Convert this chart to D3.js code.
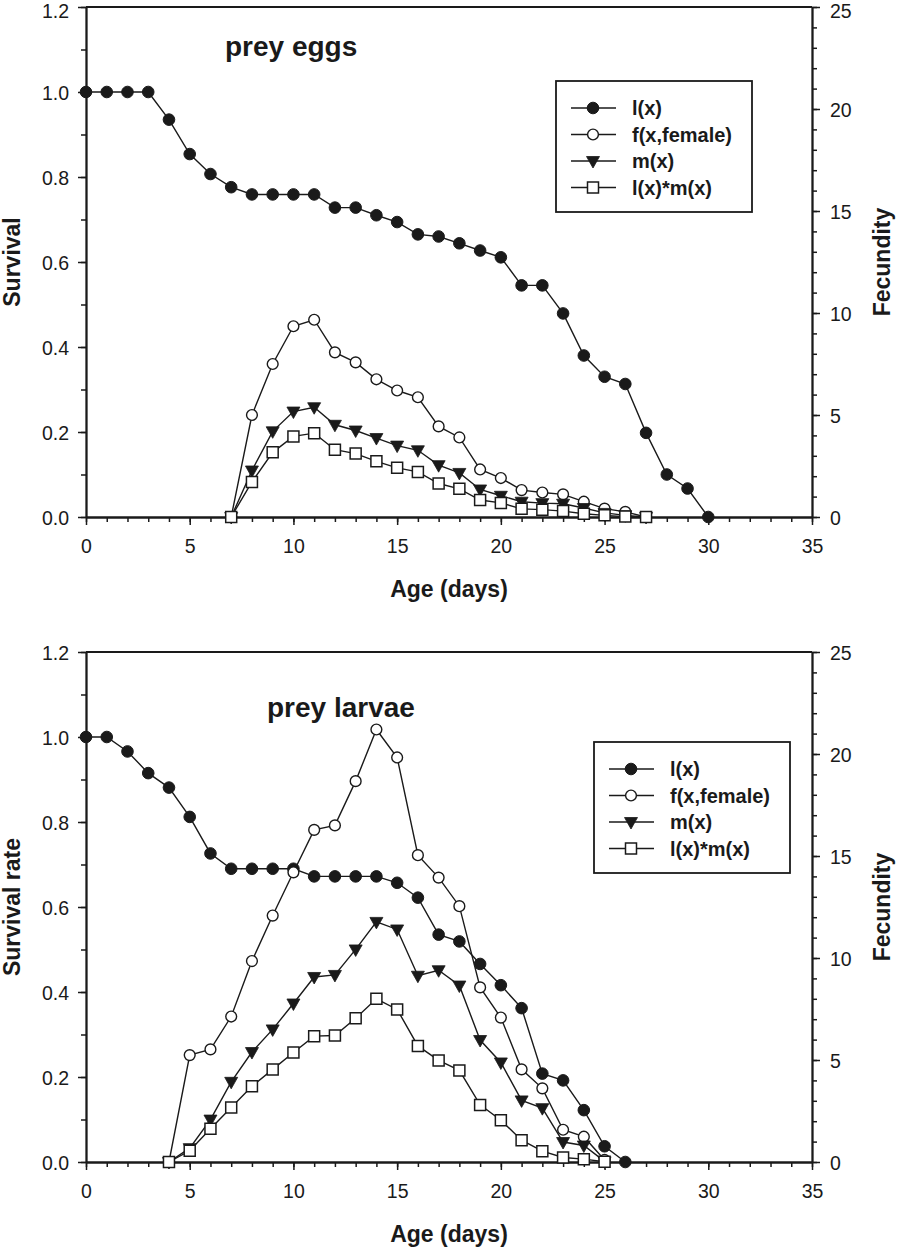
<!DOCTYPE html>
<html>
<head>
<meta charset="utf-8">
<script src="https://cdn.jsdelivr.net/npm/d3@7"></script>
<style>
  html, body { margin: 0; padding: 0; background: #fff; }
  svg { display: block; font-family: "Liberation Sans", Arial, sans-serif; }
</style>
</head>
<body>
<svg id="chart" width="898" height="1248"></svg>
<script>
// ---------- DATA ----------
// Panel A: prey eggs
const eggAgeL = d3.range(0, 31);
const eggL = [1, 1, 1, 1, 0.935, 0.854, 0.807, 0.776, 0.759, 0.759, 0.759, 0.759, 0.728, 0.728, 0.710, 0.694,
              0.665, 0.660, 0.644, 0.627, 0.611, 0.545, 0.545, 0.479, 0.380, 0.330, 0.313, 0.198, 0.100, 0.067, 0];
const eggAgeF = d3.range(7, 28);
const eggF  = [0, 5.0, 7.5, 9.35, 9.67, 8.07, 7.58, 6.75, 6.2, 5.87, 4.44, 3.9, 2.33, 1.91, 1.32, 1.2, 1.11, 0.75, 0.41, 0.25, 0];
const eggM  = [0, 2.28, 4.2, 5.17, 5.38, 4.52, 4.24, 3.87, 3.5, 3.27, 2.54, 2.16, 1.35, 1.04, 0.75, 0.68, 0.65, 0.44, 0.2, 0.08, 0];
const eggLM = [0, 1.72, 3.17, 3.95, 4.11, 3.3, 3.11, 2.73, 2.41, 2.21, 1.64, 1.38, 0.83, 0.69, 0.4, 0.36, 0.29, 0.16, 0.08, 0.02, 0];

// Panel B: prey larvae
const larAgeL = d3.range(0, 27);
const larL = [1, 1, 0.966, 0.915, 0.881, 0.812, 0.726, 0.690, 0.690, 0.690, 0.690, 0.672, 0.672, 0.672, 0.672, 0.657,
              0.622, 0.535, 0.519, 0.466, 0.416, 0.362, 0.208, 0.192, 0.122, 0.037, 0];
const larAgeF = d3.range(4, 26);
const larF  = [0, 5.24, 5.52, 7.13, 9.85, 12.08, 14.2, 16.28, 16.5, 18.67, 21.2, 19.83, 15.04, 13.94, 12.54, 8.56, 7.08, 4.54, 3.61, 1.58, 1.24, 0.1];
const larM  = [0, 0.68, 2.08, 3.93, 5.39, 6.5, 7.77, 9.07, 9.17, 10.42, 11.77, 11.4, 9.13, 9.4, 8.65, 5.98, 4.88, 3.02, 2.64, 0.98, 0.81, 0.03];
const larLM = [0, 0.55, 1.63, 2.67, 3.71, 4.54, 5.37, 6.17, 6.2, 7.05, 8.0, 7.48, 5.69, 4.98, 4.49, 2.8, 2.05, 1.07, 0.53, 0.22, 0.14, 0.01];

const seriesNames = ["l(x)", "f(x,female)", "m(x)", "l(x)*m(x)"];
const xTicks = [0, 5, 10, 15, 20, 25, 30, 35];
const survTicks = [0, 0.2, 0.4, 0.6, 0.8, 1.0, 1.2];
const fecTicks = [0, 5, 10, 15, 20, 25];

// ---------- DRAWING ----------
const svg = d3.select("#chart");
const INK = "#1a1a1a";

function markerPath(kind) {
  if (kind === "tri") return "M-6.5,-4.5L6.5,-4.5L0,7Z";
  if (kind === "sq") return "M-5.5,-5.5H5.5V5.5H-5.5Z";
  return null;
}

function drawMarker(g, kind, x, y) {
  if (kind === "fc") {
    g.append("circle").attr("cx", x).attr("cy", y).attr("r", 5.8).attr("fill", INK).attr("stroke", INK).attr("stroke-width", 1);
  } else if (kind === "oc") {
    g.append("circle").attr("cx", x).attr("cy", y).attr("r", 5.4).attr("fill", "#fff").attr("stroke", INK).attr("stroke-width", 1.4);
  } else if (kind === "tri") {
    g.append("path").attr("d", markerPath("tri")).attr("transform", `translate(${x},${y})`).attr("fill", INK).attr("stroke", INK).attr("stroke-width", 0.8);
  } else {
    g.append("path").attr("d", markerPath("sq")).attr("transform", `translate(${x},${y})`).attr("fill", "#fff").attr("stroke", INK).attr("stroke-width", 1.5);
  }
}

function panel(cfg) {
  const x = d3.scaleLinear().domain([0, 35]).range([cfg.left, cfg.right]);
  const yL = d3.scaleLinear().domain([0, 1.2]).range([cfg.bottom, cfg.top]);
  const yR = d3.scaleLinear().domain([0, 25]).range([cfg.bottom, cfg.top]);
  const g = svg.append("g");

  // minor ticks
  g.append("g").attr("transform", `translate(0,${cfg.bottom})`)
    .call(d3.axisBottom(x).tickValues(d3.range(0, 36)).tickSize(5).tickFormat("").tickSizeOuter(0));
  g.append("g").attr("transform", `translate(${cfg.left},0)`)
    .call(d3.axisLeft(yL).tickValues(d3.range(0, 13).map(d => d / 10)).tickSize(5).tickFormat("").tickSizeOuter(0));
  g.append("g").attr("transform", `translate(${cfg.right},0)`)
    .call(d3.axisRight(yR).tickValues(d3.range(0, 26)).tickSize(5).tickFormat("").tickSizeOuter(0));

  // major ticks + labels
  g.append("g").attr("transform", `translate(0,${cfg.bottom})`)
    .call(d3.axisBottom(x).tickValues(xTicks).tickSize(8).tickPadding(14).tickFormat(d3.format("d")).tickSizeOuter(0));
  g.append("g").attr("class", "yl").attr("transform", `translate(${cfg.left},0)`)
    .call(d3.axisLeft(yL).tickValues(survTicks).tickSize(8).tickPadding(9).tickFormat(d3.format(".1f")).tickSizeOuter(0));
  g.append("g").attr("class", "yr").attr("transform", `translate(${cfg.right},0)`)
    .call(d3.axisRight(yR).tickValues(fecTicks).tickSize(8).tickPadding(10).tickFormat(d3.format("d")).tickSizeOuter(0));

  g.selectAll(".domain").attr("stroke", INK).attr("stroke-width", 1.8);
  g.selectAll(".tick line").attr("stroke", INK).attr("stroke-width", 1.5);
  g.selectAll(".tick text").attr("font-size", 19.5).attr("fill", INK).attr("font-family", "'Liberation Sans', Arial, sans-serif");
  g.selectAll(".yl .tick text, .yr .tick text").attr("dy", "0.36em");
  if (cfg.top < 20) {
    // keep the topmost labels inside the page
    g.selectAll(".yl .tick text").filter(d => d === 1.2).attr("dy", "0.56em");
    g.selectAll(".yr .tick text").filter(d => d === 25).attr("dy", "0.56em");
  }

  // top border
  g.append("line").attr("x1", cfg.left).attr("x2", cfg.right).attr("y1", cfg.top).attr("y2", cfg.top)
    .attr("stroke", INK).attr("stroke-width", 1.8);

  // axis titles
  g.append("text").attr("x", (cfg.left + cfg.right) / 2).attr("y", cfg.bottom + 80)
    .attr("text-anchor", "middle").attr("font-size", 23).attr("font-weight", "bold").attr("fill", INK).text("Age (days)");
  const midY = (cfg.top + cfg.bottom) / 2;
  g.append("text").attr("transform", `translate(20,${midY}) rotate(-90)`)
    .attr("text-anchor", "middle").attr("font-size", 23).attr("font-weight", "bold").attr("fill", INK).text(cfg.yTitle);
  g.append("text").attr("transform", `translate(890,${midY}) rotate(-90)`)
    .attr("text-anchor", "middle").attr("font-size", 23).attr("font-weight", "bold").attr("fill", INK).text("Fecundity");

  // panel title
  g.append("text").attr("x", cfg.titleX).attr("y", cfg.titleY)
    .attr("font-size", 28).attr("font-weight", "bold").attr("fill", INK).text(cfg.title);

  // series
  const line = d3.line();
  const series = [
    { ages: cfg.ageL, vals: cfg.l, y: yL, kind: "fc" },
    { ages: cfg.ageF, vals: cfg.f, y: yR, kind: "oc" },
    { ages: cfg.ageF, vals: cfg.m, y: yR, kind: "tri" },
    { ages: cfg.ageF, vals: cfg.lm, y: yR, kind: "sq" }
  ];
  series.forEach(s => {
    const pts = s.ages.map((a, i) => [x(a), s.y(s.vals[i])]);
    g.append("path").attr("d", line(pts)).attr("fill", "none").attr("stroke", INK).attr("stroke-width", 1.4);
    const mg = g.append("g");
    pts.forEach(p => drawMarker(mg, s.kind, p[0], p[1]));
  });

  // legend
  const lg = g.append("g").attr("transform", `translate(${cfg.legX},${cfg.legY})`);
  lg.append("rect").attr("x", 0).attr("y", 0).attr("width", 196).attr("height", 131)
    .attr("fill", "#fff").attr("stroke", INK).attr("stroke-width", 1.8);
  const kinds = ["fc", "oc", "tri", "sq"];
  seriesNames.forEach((name, i) => {
    const yy = 27 + i * 26.5;
    lg.append("line").attr("x1", 15).attr("x2", 60).attr("y1", yy).attr("y2", yy).attr("stroke", INK).attr("stroke-width", 1.6);
    drawMarker(lg, kinds[i], 37, yy);
    lg.append("text").attr("x", 76).attr("y", yy + 7).attr("font-size", 20).attr("font-weight", "bold").attr("fill", INK).text(name);
  });
}

panel({
  left: 86, right: 812, top: 7, bottom: 517,
  title: "prey eggs", titleX: 225, titleY: 56, yTitle: "Survival",
  ageL: eggAgeL, l: eggL, ageF: eggAgeF, f: eggF, m: eggM, lm: eggLM,
  legX: 556, legY: 81
});
panel({
  left: 86, right: 812, top: 652, bottom: 1162,
  title: "prey larvae", titleX: 267, titleY: 717, yTitle: "Survival rate",
  ageL: larAgeL, l: larL, ageF: larAgeF, f: larF, m: larM, lm: larLM,
  legX: 594, legY: 742
});
</script>
</body>
</html>
